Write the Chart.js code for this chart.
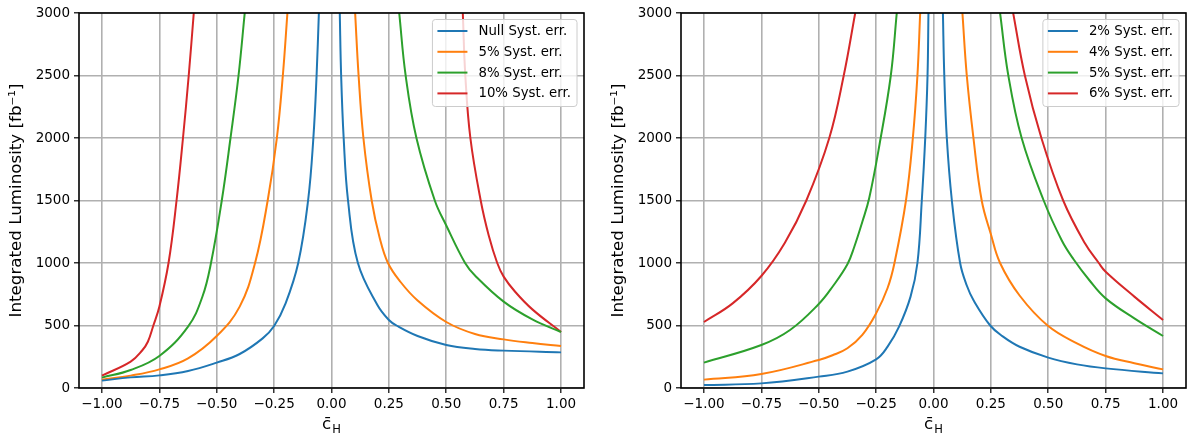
<!DOCTYPE html>
<html>
<head>
<meta charset="utf-8">
<script src="https://cdn.jsdelivr.net/npm/chart.js@4.4.1/dist/chart.umd.min.js"></script>
<style>
html, body { margin: 0; padding: 0; background: #fff; }
#wrap { position: relative; width: 1189px; height: 436px; }
#leftBox { position: absolute; left: 0; top: 0; width: 595px; height: 436px; }
#rightBox { position: absolute; left: 595px; top: 0; width: 594px; height: 436px; }
</style>
</head>
<body>
<div id="wrap">
  <div id="leftBox"><canvas id="leftChart" width="595" height="436"></canvas></div>
  <div id="rightBox"><canvas id="rightChart" width="594" height="436"></canvas></div>
</div>
<script>
// axis ticks
var xTicks = [-1, -0.75, -0.5, -0.25, 0, 0.25, 0.5, 0.75, 1];
var yTicks = [0, 500, 1000, 1500, 2000, 2500, 3000];
var colors = ['#1f77b4', '#ff7f0e', '#2ca02c', '#d62728'];

// left panel (null entry = gap between the two branches)
var leftLabels = ['Null Syst. err.', '5% Syst. err.', '8% Syst. err.', '10% Syst. err.'];
var nullX = [-1, -0.875, -0.75, -0.625, -0.5, -0.4, -0.3, -0.25, -0.2, -0.145, -0.102, -0.079, -0.065, -0.055, 0,
             0.036, 0.042, 0.053, 0.072, 0.115, 0.2, 0.25, 0.283, 0.375, 0.5, 0.625, 0.75, 1];
var nullY = [59, 85, 101, 136, 203, 272, 397, 496, 677, 1000, 1500, 2000, 2500, 3000, null,
             3000, 2500, 2000, 1500, 1000, 664, 544, 500, 416, 344, 312, 299, 285];
var sys5X = [-1, -0.875, -0.75, -0.625, -0.5, -0.4, -0.333, -0.278, -0.238, -0.212, -0.192, 0,
             0.103, 0.118, 0.139, 0.175, 0.21, 0.246, 0.3, 0.375, 0.5, 0.625, 0.75, 0.875, 1];
var sys5Y = [67, 99, 149, 237, 416, 651, 1000, 1500, 2000, 2500, 3000, null,
             3000, 2500, 2000, 1500, 1200, 1000, 850, 700, 528, 432, 389, 360, 336];
var sys8X = [-1, -0.875, -0.75, -0.625, -0.5625, -0.525, -0.478, -0.44, -0.405, -0.378, 0,
             0.295, 0.323, 0.37, 0.45, 0.5, 0.582, 0.625, 0.75, 0.875, 1];
var sys8Y = [83, 144, 256, 491, 730, 1000, 1500, 2000, 2500, 3000, null,
             3000, 2500, 2000, 1500, 1300, 1000, 900, 691, 549, 448];
var sys10X = [-1, -0.875, -0.825, -0.8, -0.776, -0.75, -0.71, -0.675, -0.647, -0.622, -0.6, 0,
              0.572, 0.583, 0.605, 0.65, 0.685, 0.722, 0.75, 0.8, 0.875, 1];
var sys10Y = [99, 211, 300, 370, 500, 650, 1000, 1500, 2000, 2500, 3000, null,
              3000, 2500, 2000, 1500, 1220, 1000, 891, 770, 629, 448];

// right panel
var rightLabels = ['2% Syst. err.', '4% Syst. err.', '5% Syst. err.', '6% Syst. err.'];
var r2X = [-1, -0.75, -0.5, -0.375, -0.25, -0.2, -0.15, -0.1, -0.07, -0.051, -0.036, -0.026, -0.022, 0,
           0.041, 0.047, 0.058, 0.08, 0.116, 0.145, 0.175, 0.247, 0.3, 0.375, 0.5, 0.625, 0.75, 1];
var r2Y = [24, 37, 91, 131, 229, 331, 491, 731, 1000, 1500, 2000, 2500, 3000, null,
           3000, 2500, 2000, 1500, 1000, 820, 700, 500, 415, 330, 243, 189, 157, 117];
var r4X = [-1, -0.75, -0.5, -0.44, -0.375, -0.31, -0.25, -0.2, -0.17, -0.12, -0.09, -0.07, -0.058, 0,
           0.126, 0.145, 0.174, 0.21, 0.25, 0.29, 0.375, 0.497, 0.625, 0.75, 0.875, 1];
var r4Y = [67, 112, 224, 262, 318, 425, 597, 800, 1000, 1500, 2000, 2500, 3000, null,
           3000, 2500, 2000, 1500, 1230, 1000, 740, 500, 357, 256, 198, 149];
var r5X = [-1, -0.75, -0.625, -0.5, -0.44, -0.375, -0.345, -0.31, -0.28, -0.235, -0.186, -0.16, 0,
           0.29, 0.326, 0.384, 0.48, 0.559, 0.61, 0.68, 0.75, 0.875, 1];
var r5Y = [203, 344, 464, 672, 810, 990, 1130, 1330, 1520, 1950, 2500, 3000, null,
           3000, 2500, 2000, 1500, 1180, 1030, 860, 717, 557, 416];
var r6X = [-1, -0.875, -0.75, -0.648, -0.554, -0.454, -0.391, -0.341, 0,
           0.347, 0.398, 0.47, 0.565, 0.659, 0.72, 0.75, 0.875, 1];
var r6Y = [528, 677, 896, 1160, 1500, 2000, 2500, 3000, null,
           3000, 2500, 2000, 1500, 1160, 1000, 930, 731, 544];

var FONT = 'DejaVu Sans';

function pts(xs, ys) {
    return xs.map(function (x, i) { return { x: x, y: ys[i] }; });
}

function fmtX(v) {
    return (v < 0 ? '\u2212' : '') + Math.abs(v).toFixed(2);
}

// box around the plot area
var framePlugin = {
    id: 'frame',
    afterDatasetsDraw: function (chart) {
        var a = chart.chartArea, ctx = chart.ctx;
        ctx.save();
        ctx.strokeStyle = '#000';
        ctx.lineWidth = 1.6;
        ctx.strokeRect(a.left, a.top, a.right - a.left, a.bottom - a.top);
        ctx.restore();
    }
};

// legend drawn inside the upper right corner
var legendPlugin = {
    id: 'innerLegend',
    afterDraw: function (chart) {
        var a = chart.chartArea, ctx = chart.ctx;
        var sets = chart.data.datasets;
        ctx.save();
        ctx.font = '13.3px "' + FONT + '"';
        var w = 0;
        sets.forEach(function (d) { w = Math.max(w, ctx.measureText(d.label).width); });
        var boxW = w + 52, boxH = 87;
        var right = a.right - 7, top = a.top + 6.5, left = right - boxW;
        ctx.beginPath();
        ctx.roundRect(left, top, boxW, boxH, 3);
        ctx.fillStyle = 'rgba(255,255,255,0.8)';
        ctx.fill();
        ctx.strokeStyle = '#cccccc';
        ctx.lineWidth = 1;
        ctx.stroke();
        ctx.textBaseline = 'middle';
        ctx.textAlign = 'left';
        sets.forEach(function (d, i) {
            var y = top + 11.5 + i * 20.8;
            ctx.beginPath();
            ctx.moveTo(left + 5, y);
            ctx.lineTo(left + 35, y);
            ctx.strokeStyle = d.borderColor;
            ctx.lineWidth = 2;
            ctx.stroke();
            ctx.fillStyle = '#000';
            ctx.fillText(d.label, left + 46, y + 0.5);
        });
        ctx.restore();
    }
};

// x axis label c-bar with subscript H
var xLabelPlugin = {
    id: 'xLabel',
    afterDraw: function (chart) {
        var a = chart.chartArea, ctx = chart.ctx;
        var cx = (a.left + a.right) / 2;
        ctx.save();
        ctx.fillStyle = '#000';
        ctx.textBaseline = 'alphabetic';
        ctx.textAlign = 'left';
        ctx.font = '16.7px "' + FONT + '"';
        var cw = ctx.measureText('c').width;
        ctx.font = '11.5px "' + FONT + '"';
        var hw = ctx.measureText('H').width;
        var x0 = cx - (cw + hw + 1) / 2;
        ctx.font = '16.7px "' + FONT + '"';
        ctx.fillText('c\u0304', x0, 429);
        ctx.font = '11.5px "' + FONT + '"';
        ctx.fillText('H', x0 + cw + 1, 433);
        ctx.restore();
    }
};

function makeChart(id, labels, xsList, ysList, pad) {
    var ctx = document.getElementById(id).getContext('2d');
    return new Chart(ctx, {
        type: 'line',
        data: {
            datasets: labels.map(function (lab, i) {
                return {
                    label: lab,
                    data: pts(xsList[i], ysList[i]),
                    borderColor: colors[i],
                    backgroundColor: colors[i],
                    borderWidth: 2,
                    pointRadius: 0,
                    tension: 0.4,
                    spanGaps: false,
                    fill: false
                };
            })
        },
        options: {
            responsive: false,
            devicePixelRatio: 1,
            animation: false,
            layout: { padding: pad },
            plugins: {
                legend: { display: false },
                tooltip: { enabled: false }
            },
            scales: {
                x: {
                    type: 'linear',
                    min: -1.1,
                    max: 1.1,
                    afterBuildTicks: function (s) { s.ticks = xTicks.map(function (v) { return { value: v }; }); },
                    afterFit: function (s) { s.height = 48; },
                    border: { display: false },
                    grid: { color: '#b0b0b0', lineWidth: 1.6, tickLength: 5, tickColor: '#000', tickWidth: 1.2 },
                    ticks: {
                        color: '#000', padding: 3, maxRotation: 0, autoSkip: false,
                        font: { family: FONT, size: 13.5 },
                        callback: fmtX
                    }
                },
                y: {
                    type: 'linear',
                    min: 0,
                    max: 3000,
                    afterBuildTicks: function (s) { s.ticks = yTicks.map(function (v) { return { value: v }; }); },
                    afterFit: function (s) { s.width = 79; },
                    border: { display: false },
                    grid: { color: '#b0b0b0', lineWidth: 1.6, tickLength: 5, tickColor: '#000', tickWidth: 1.2 },
                    ticks: {
                        color: '#000', padding: 4,
                        font: { family: FONT, size: 13.5 },
                        callback: function (v) { return String(v); }
                    },
                    title: {
                        display: true,
                        text: 'Integrated Luminosity [fb\u207B\u00B9]',
                        color: '#000',
                        font: { family: FONT, size: 16.7 },
                        padding: { top: 7, bottom: 0 }
                    }
                }
            }
        },
        plugins: [framePlugin, legendPlugin, xLabelPlugin]
    });
}

var leftChart = makeChart('leftChart', leftLabels,
    [nullX, sys5X, sys8X, sys10X], [nullY, sys5Y, sys8Y, sys10Y],
    { left: 0, top: 13, right: 11, bottom: 0 });

var rightChart = makeChart('rightChart', rightLabels,
    [r2X, r4X, r5X, r6X], [r2Y, r4Y, r5Y, r6Y],
    { left: 7, top: 13, right: 3, bottom: 0 });
</script>
</body>
</html>
